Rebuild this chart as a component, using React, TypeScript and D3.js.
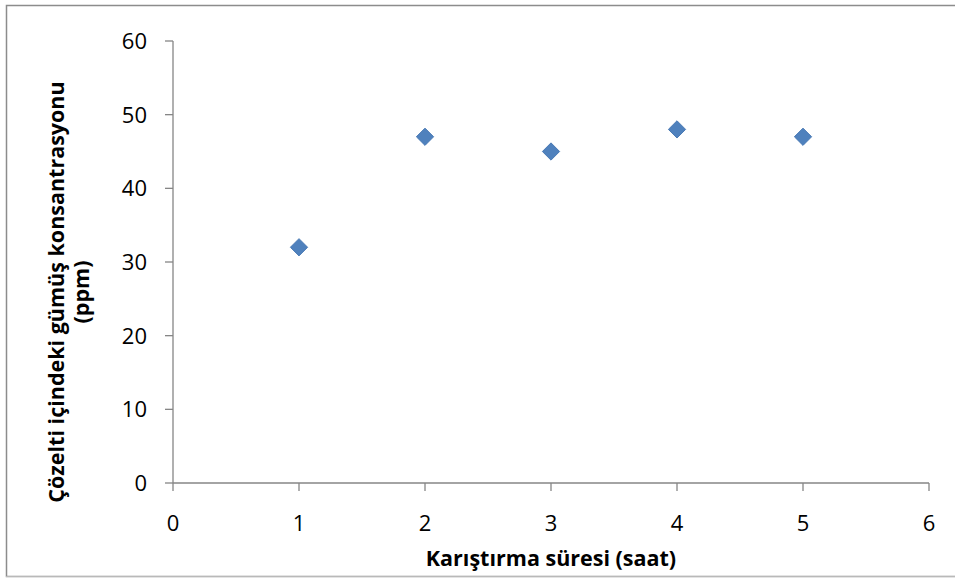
import React from "react";
import * as d3 from "d3";

// Stirring time (hours) vs dissolved silver concentration (ppm)
const hours = [1, 2, 3, 4, 5];
const silverPpm = [32, 47, 45, 48, 47];
const xTicks = [0, 1, 2, 3, 4, 5, 6];
const yTicks = [0, 10, 20, 30, 40, 50, 60];

const W = 955;
const H = 578;
const plot = { left: 173, right: 929, top: 41, bottom: 483 };

export default function App() {
  const x = d3.scaleLinear().domain([0, 6]).range([plot.left, plot.right]);
  const y = d3.scaleLinear().domain([0, 60]).range([plot.bottom, plot.top]);
  const diamond = d3.symbol().type(d3.symbolDiamond2).size(190)();
  const axisColor = "#868686";
  const font = "'Open Sans', 'Liberation Sans', sans-serif";

  return (
    <svg
      width={W}
      height={H}
      style={{ position: "absolute", left: 0, top: 0 }}
      fontFamily={font}
    >
      <rect x={0} y={0} width={W} height={H} fill="#fff" />
      <rect x={6.5} y={5.5} width={W} height={571} fill="none" stroke="#8c8c8c" strokeWidth={1.5} />
      <line x1={6} x2={W} y1={577} y2={577} stroke="#e6e6e6" />

      {/* y axis */}
      <line x1={plot.left} x2={plot.left} y1={plot.top} y2={plot.bottom} stroke={axisColor} strokeWidth={1.3} />
      {yTicks.map((t) => (
        <g key={"y" + t}>
          <line x1={plot.left - 8} x2={plot.left} y1={y(t)} y2={y(t)} stroke={axisColor} strokeWidth={1.3} />
          <text x={plot.left - 26} y={y(t)} dy="0.36em" textAnchor="end" fontSize={22} fill="#000">
            {t}
          </text>
        </g>
      ))}

      {/* x axis */}
      <line x1={plot.left} x2={plot.right} y1={plot.bottom} y2={plot.bottom} stroke={axisColor} strokeWidth={1.3} />
      {xTicks.map((t) => (
        <g key={"x" + t}>
          <line x1={x(t)} x2={x(t)} y1={plot.bottom} y2={plot.bottom + 8} stroke={axisColor} strokeWidth={1.3} />
          <text x={x(t)} y={531} textAnchor="middle" fontSize={22} fill="#000">
            {t}
          </text>
        </g>
      ))}

      {/* data points */}
      {hours.map((h, i) => (
        <path
          key={"p" + h}
          d={diamond as string}
          transform={`translate(${x(h)},${y(silverPpm[i])})`}
          fill="#4f81bd"
          stroke="#4a7ab5"
          strokeWidth={1}
        />
      ))}

      {/* axis titles */}
      <text x={551} y={566} textAnchor="middle" fontSize={21.5} fontWeight="bold" fill="#000">
        Karıştırma süresi (saat)
      </text>
      <g transform="translate(0,292) rotate(-90)">
        <text x={0} y={64} textAnchor="middle" fontSize={21.5} fontWeight="bold" fill="#000">
          Çözelti içindeki gümüş konsantrasyonu
        </text>
        <text x={0} y={89} textAnchor="middle" fontSize={21.5} fontWeight="bold" fill="#000">
          (ppm)
        </text>
      </g>
    </svg>
  );
}
